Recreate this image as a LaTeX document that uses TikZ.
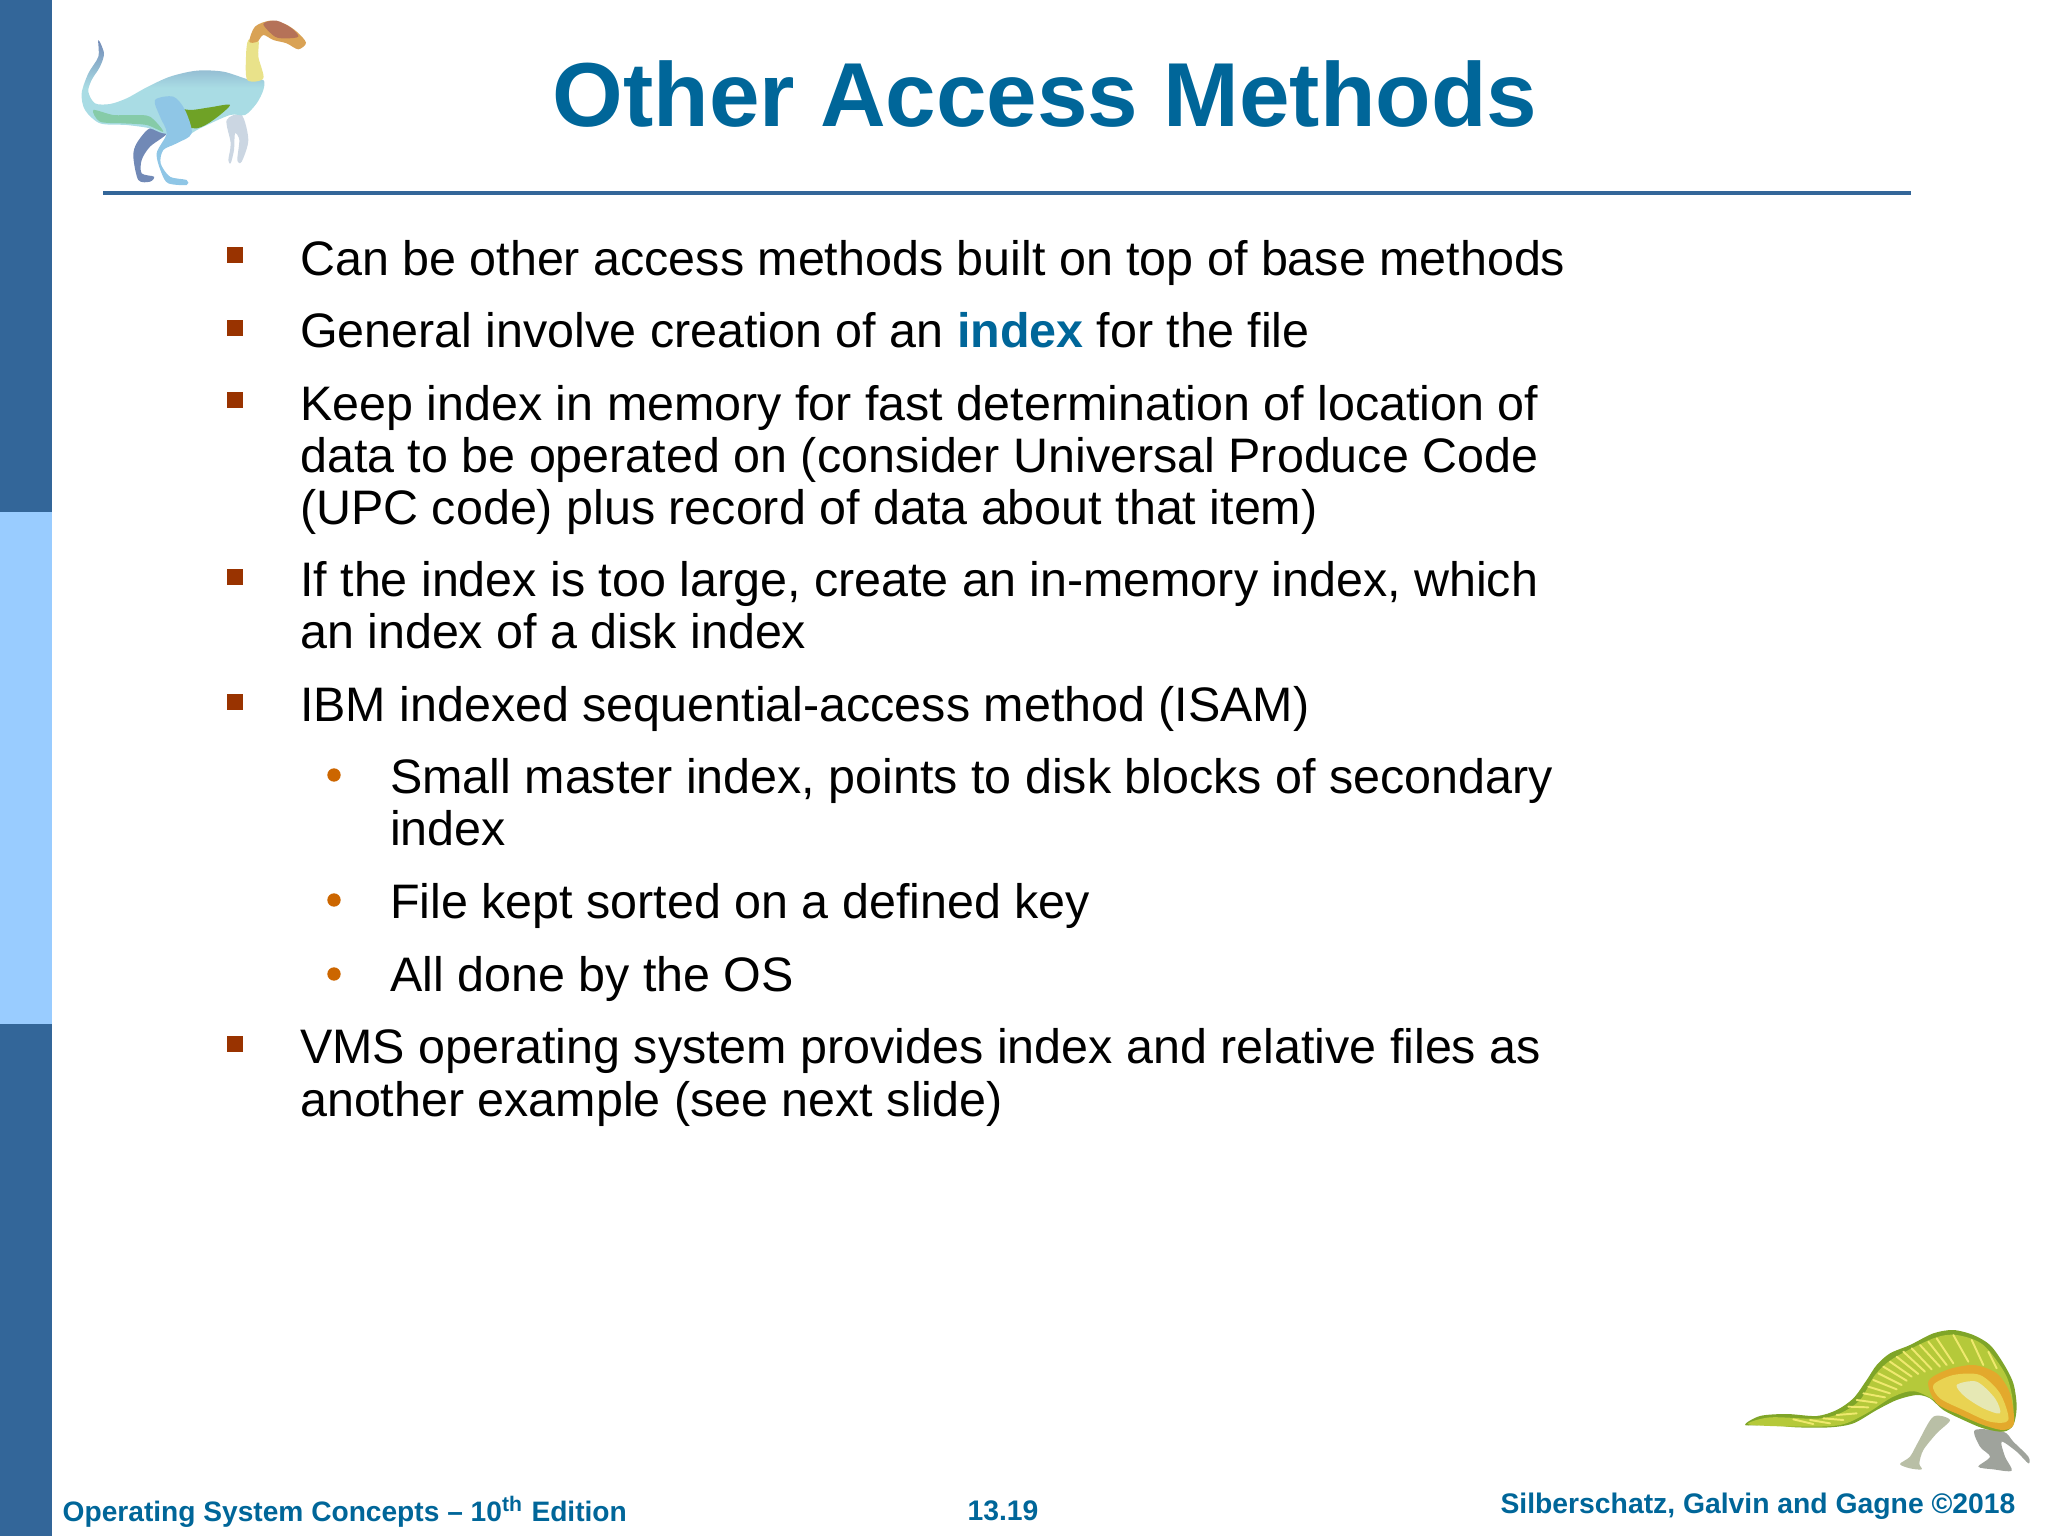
\documentclass[tikz,border=0pt]{standalone}
\usepackage{fontspec}
\setmainfont{Liberation Sans}
\usepackage{tikz}

\definecolor{sidedark}{HTML}{336699}
\definecolor{sidelight}{HTML}{99CCFF}
\definecolor{titleblue}{HTML}{006699}
\definecolor{squarered}{HTML}{993300}
\definecolor{dotorange}{HTML}{CC6600}
\definecolor{skinslate}{HTML}{7189B6}
\definecolor{skinpale}{HTML}{A9DCE4}
\definecolor{skinblue}{HTML}{8FC6E6}
\definecolor{skingreen}{HTML}{6FA226}
\definecolor{skinteal}{HTML}{86CBA8}
\definecolor{skinneck}{HTML}{E9E28A}
\definecolor{skinhead}{HTML}{D9A255}
\definecolor{skinbrown}{HTML}{B57258}
\definecolor{skinlegs}{HTML}{CBD6E2}
\definecolor{iguback}{HTML}{B5C93A}
\definecolor{igutop}{HTML}{7FA528}
\definecolor{igustripe}{HTML}{EFE96E}
\definecolor{iguband}{HTML}{E3A92C}
\definecolor{iguflank}{HTML}{E9D352}
\definecolor{igupale}{HTML}{E6E8B4}
\definecolor{igulegs}{HTML}{B9BFA6}
\definecolor{igufeet}{HTML}{9FA39C}

\tikzset{
	bodyline/.style={anchor=base west, inner sep=0pt, font=\fontsize{13.77pt}{16pt}\selectfont, text=black},
	squarebullet/.style={fill=squarered, draw=none, minimum size=4.55pt, inner sep=0pt},
	dotbullet/.style={circle, fill=dotorange, draw=none, minimum size=3.8pt, inner sep=0pt},
	footertext/.style={anchor=base, inner sep=0pt, font=\bfseries\fontsize{8.05pt}{10pt}\selectfont, text=titleblue},
}

\begin{document}
\begin{tikzpicture}[x=0.01cm,y=-0.01cm]

	\useasboundingbox (0,0) rectangle (2048,1536);

	% side bar and rule
	\fill[sidedark] (0,0) rectangle (52,512);
	\fill[sidelight] (0,512) rectangle (52,1024);
	\fill[sidedark] (0,1024) rectangle (52,1536);
	\fill[sidedark] (103,191) rectangle (1911,195);

	% title
	\node (title) at (1045,126) [anchor=base, inner sep=0pt, font=\bfseries\fontsize{25.84pt}{30pt}\selectfont, text=titleblue] {Other Access Methods};

	% text lines
	\node (l1) at (299.5,275.5) [bodyline] {Can be other access methods built on top of base methods};
	\node (l2) at (299.5,347.5) [bodyline] {General involve creation of an {\bfseries\color{titleblue}index} for the file};
	\node (l3) at (299.5,420.5) [bodyline] {Keep index in memory for fast determination of location of};
	\node (l3b) at (299.5,472.5) [bodyline] {data to be operated on (consider Universal Produce Code};
	\node (l3c) at (299.5,524.5) [bodyline] {(UPC code) plus record of data about that item)};
	\node (l4) at (299.5,596.5) [bodyline] {If the index is too large, create an in-memory index, which};
	\node (l4b) at (299.5,648.5) [bodyline] {an index of a disk index};
	\node (l5) at (299.5,721.5) [bodyline] {IBM indexed sequential-access method (ISAM)};
	\node (s1) at (389.5,793.5) [bodyline] {Small master index, points to disk blocks of secondary};
	\node (s1b) at (389.5,845.5) [bodyline] {index};
	\node (s2) at (389.5,918.5) [bodyline] {File kept sorted on a defined key};
	\node (s3) at (389.5,991.5) [bodyline] {All done by the OS};
	\node (l6) at (299.5,1063.5) [bodyline] {VMS operating system provides index and relative files as};
	\node (l6b) at (299.5,1116) [bodyline] {another example (see next slide)};

	% bullets
	\foreach \y/\name in {255/a,328/b,400/c,577/d,702/e,1044/f}
		\node (sq\name) at (235,\y) [squarebullet] {};
	\foreach \y/\name in {775/a,900/b,974/c}
		\node (dot\name) at (334,\y) [dotbullet] {};

	% footer
	\node (foot1) at (62,1521.5) [footertext, anchor=base west, font=\bfseries\fontsize{8pt}{10pt}\selectfont] {Operating System Concepts – 10\textsuperscript{th} Edition};
	\node (foot2) at (1003,1520) [footertext] {13.19};
	\node (foot3) at (1758,1513) [footertext] {Silberschatz, Galvin and Gagne ©2018};

	% raptor, top left, in crop units
	\begin{scope}[x=0.01cm/3,y=-0.01cm/3]
		% far legs
		\fill[skinslate] plot[smooth cycle] coordinates {(450,385) (500,400) (450,440) (425,480) (425,520) (462,530) (450,545) (415,540) (400,470) (410,430)};
		\fill[skinlegs] plot[smooth cycle] coordinates {(680,360) (725,345) (745,420) (725,485) (712,480) (718,420) (705,400) (702,450) (692,490) (685,480) (692,430)};
		% body and tail
		\shade[top color=skinslate, bottom color=skinpale, middle color=skinpale] plot[smooth cycle] coordinates {(295,120) (312,160) (300,200) (275,240) (265,275) (285,310) (330,312) (380,295) (440,262) (510,230) (590,212) (670,215) (745,238) (790,240) (790,270) (770,310) (735,345) (690,345) (600,385) (560,405) (490,400) (450,385) (380,375) (300,370) (255,330) (245,280) (265,220) (295,170)};
		% green belly and tail
		\fill[skingreen] plot[smooth cycle] coordinates {(470,320) (530,370) (590,385) (640,360) (690,315) (630,322) (570,330) (520,320)};
		\fill[skinteal] plot[smooth cycle] coordinates {(280,330) (340,345) (400,345) (450,350) (490,395) (440,375) (370,370) (300,365)};
		% near thigh and leg
		\fill[skinblue] plot[smooth cycle] coordinates {(465,300) (520,290) (555,330) (575,400) (530,430) (490,450) (482,490) (510,530) (560,540) (560,555) (505,550) (485,520) (470,460) (500,400) (480,350)};
		% neck and head
		\fill[skinneck] plot[smooth cycle] coordinates {(742,240) (738,170) (745,120) (775,120) (775,170) (790,235)};
		\fill[skinhead] plot[smooth cycle] coordinates {(748,125) (765,80) (810,62) (855,72) (890,95) (918,128) (895,148) (860,130) (820,120) (790,105) (772,125)};
		\fill[skinbrown] plot[smooth cycle] coordinates {(790,72) (830,62) (875,85) (895,110) (860,115) (825,110)};
	\end{scope}

	% iguanodon, bottom right, in crop units
	\begin{scope}[shift={(1720,1310)},x=0.01cm/3,y=-0.01cm/3]
		% legs
		\fill[igulegs] plot[smooth cycle] coordinates {(640,320) (690,330) (650,370) (610,420) (598,460) (605,478) (570,475) (540,462) (570,440) (595,395)};
		\fill[igufeet] plot[smooth cycle] coordinates {(765,360) (850,365) (880,395) (925,440) (925,460) (890,425) (845,395) (855,440) (875,482) (820,478) (775,470) (810,440) (780,410)};
		% body and tail
		\fill[igutop] plot[smooth cycle] coordinates {(75,345) (120,318) (200,312) (290,318) (350,300) (400,265) (440,210) (470,165) (510,130) (570,105) (640,70) (700,60) (760,75) (810,105) (850,160) (880,220) (890,290) (880,345) (850,365) (790,355) (730,330) (670,300) (630,265) (590,255) (530,270) (470,300) (400,340) (330,352) (230,352) (150,345)};
		\fill[iguback] plot[smooth cycle] coordinates {(85,343) (150,322) (290,326) (360,310) (420,270) (465,195) (520,145) (640,85) (710,75) (790,105) (860,200) (880,300) (850,350) (700,300) (590,245) (520,260) (440,310) (360,345) (230,350)};
		% stripes
		\foreach \xa/\ya/\xb/\yb in {650/85/700/160,700/75/745/155,755/90/790/165,805/125/830/175,625/95/680/165,600/105/660/170,575/115/635/178,550/125/615/185,530/140/595/192,510/155/575/200,490/170/560/212,475/190/545/225,460/210/530/238,445/230/510/250,430/250/495/262,410/270/470/278,385/290/445/292,350/315/410/310,310/325/370/330,270/330/330/340,220/328/280/342}
			\draw[igustripe, line width=0.55pt, line cap=round] (\xa,\ya) -- (\xb,\yb);
		% orange band, flank and rim
		\fill[iguband] plot[smooth cycle] coordinates {(625,215) (680,180) (760,165) (830,190) (870,250) (882,340) (850,360) (790,345) (720,315) (650,280)};
		\fill[iguflank] plot[smooth cycle] coordinates {(640,225) (700,195) (780,195) (840,250) (865,330) (810,335) (730,300) (660,265)};
		\fill[igupale] plot[smooth cycle] coordinates {(710,225) (770,215) (825,265) (840,310) (790,295) (735,260)};
	\end{scope}

\end{tikzpicture}
\end{document}
